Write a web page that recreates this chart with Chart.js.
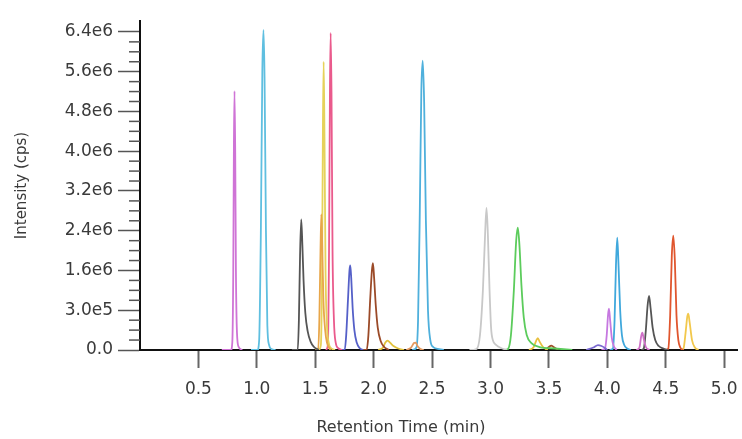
<!DOCTYPE html>
<html>
<head>
<meta charset="utf-8">
<script src="https://cdn.jsdelivr.net/npm/chart.js@4.4.1/dist/chart.umd.min.js"></script>
<style>
    html, body { margin: 0; padding: 0; background: #fff; }
    #wrap { width: 742px; height: 439px; position: relative; }
</style>
</head>
<body>
<div id="wrap"><canvas id="grafico"></canvas></div>
<script>
// ==================== DADOS DO CROMATOGRAMA ====================
// Cada traço: pares [tempo (min), intensidade (cps)]

const xTicks = [0.5, 1.0, 1.5, 2.0, 2.5, 3.0, 3.5, 4.0, 4.5, 5.0];
const yTicks = [0, 0.8e6, 1.6e6, 2.4e6, 3.2e6, 4.0e6, 4.8e6, 5.6e6, 6.4e6];
const yTickLabels = ['0.0', '3.0e5', '1.6e6', '2.4e6', '3.2e6', '4.0e6', '4.8e6', '5.6e6', '6.4e6'];

const magenta081 = [[0.70,0],[0.778,0],[0.790,0.15e6],[0.798,1.5e6],[0.804,4.2e6],[0.809,5.21e6],[0.815,4.0e6],[0.821,1.6e6],[0.830,0.35e6],[0.845,0.06e6],[0.875,0]];
const cyan106 = [[0.95,0],[1.005,0],[1.020,0.2e6],[1.035,2.5e6],[1.047,5.6e6],[1.057,6.44e6],[1.066,5.5e6],[1.078,2.4e6],[1.090,0.5e6],[1.105,0.1e6],[1.125,0.02e6],[1.16,0]];
const gray138 = [[1.30,0],[1.350,0],[1.360,0.6e6],[1.370,1.9e6],[1.380,2.63e6],[1.390,2.1e6],[1.400,1.4e6],[1.415,0.75e6],[1.435,0.38e6],[1.46,0.17e6],[1.49,0.06e6],[1.53,0]];
const orange155 = [[1.50,0],[1.525,0],[1.535,0.6e6],[1.545,2.0e6],[1.552,2.73e6],[1.560,2.1e6],[1.570,1.0e6],[1.585,0.4e6],[1.60,0.15e6],[1.63,0]];
const yellow157 = [[1.53,0],[1.548,0.1e6],[1.558,1.5e6],[1.566,4.6e6],[1.572,5.80e6],[1.579,4.3e6],[1.588,1.6e6],[1.600,0.5e6],[1.615,0.15e6],[1.64,0.03e6],[1.67,0]];
const pink163 = [[1.59,0],[1.608,0.1e6],[1.618,2.0e6],[1.626,5.3e6],[1.632,6.38e6],[1.639,5.2e6],[1.648,2.0e6],[1.660,0.6e6],[1.675,0.15e6],[1.70,0.03e6],[1.73,0]];
const navy180 = [[1.72,0],[1.752,0],[1.765,0.3e6],[1.780,1.0e6],[1.793,1.6e6],[1.800,1.70e6],[1.808,1.45e6],[1.820,0.85e6],[1.835,0.4e6],[1.855,0.15e6],[1.88,0.04e6],[1.91,0]];
const brown199 = [[1.90,0],[1.940,0],[1.955,0.3e6],[1.970,1.0e6],[1.985,1.6e6],[1.994,1.75e6],[2.004,1.45e6],[2.018,0.9e6],[2.035,0.45e6],[2.06,0.18e6],[2.09,0.06e6],[2.13,0]];
const yellow212 = [[2.04,0],[2.08,0.05e6],[2.10,0.15e6],[2.12,0.19e6],[2.14,0.15e6],[2.17,0.08e6],[2.21,0.03e6],[2.26,0]];
const orange235 = [[2.28,0],[2.32,0.05e6],[2.345,0.14e6],[2.36,0.15e6],[2.375,0.08e6],[2.40,0.02e6],[2.43,0]];
const cyan242 = [[2.33,0],[2.366,0.05e6],[2.380,0.6e6],[2.395,2.8e6],[2.408,5.2e6],[2.420,5.82e6],[2.432,5.0e6],[2.447,2.6e6],[2.465,0.8e6],[2.485,0.2e6],[2.51,0.06e6],[2.56,0.02e6],[2.60,0]];
const gray297 = [[2.82,0],[2.880,0.02e6],[2.910,0.3e6],[2.935,1.2e6],[2.955,2.4e6],[2.966,2.86e6],[2.978,2.3e6],[2.992,1.2e6],[3.005,0.45e6],[3.02,0.2e6],[3.05,0.1e6],[3.09,0.04e6],[3.14,0]];
const green323 = [[3.12,0],[3.150,0.02e6],[3.175,0.3e6],[3.200,1.2e6],[3.220,2.2e6],[3.234,2.46e6],[3.248,2.1e6],[3.265,1.3e6],[3.285,0.65e6],[3.31,0.3e6],[3.35,0.14e6],[3.42,0.06e6],[3.55,0.03e6],[3.70,0]];
const yellow340 = [[3.33,0],[3.37,0.06e6],[3.39,0.18e6],[3.405,0.24e6],[3.42,0.17e6],[3.45,0.06e6],[3.49,0]];
const brown352 = [[3.47,0],[3.50,0.06e6],[3.52,0.09e6],[3.54,0.06e6],[3.58,0]];
const purple392 = [[3.82,0],[3.88,0.05e6],[3.92,0.1e6],[3.95,0.08e6],[3.98,0.04e6],[4.0,0]];
const violet401 = [[3.95,0],[3.980,0.03e6],[3.995,0.3e6],[4.006,0.7e6],[4.014,0.83e6],[4.024,0.6e6],[4.038,0.25e6],[4.055,0.08e6],[4.08,0]];
const cyan408 = [[4.02,0],[4.048,0.03e6],[4.062,0.6e6],[4.074,1.7e6],[4.085,2.26e6],[4.096,1.7e6],[4.110,0.8e6],[4.125,0.3e6],[4.145,0.1e6],[4.17,0.03e6],[4.20,0]];
const pink430 = [[4.25,0],[4.275,0.05e6],[4.29,0.28e6],[4.30,0.35e6],[4.312,0.22e6],[4.33,0.06e6],[4.36,0]];
const gray436 = [[4.29,0],[4.312,0.03e6],[4.328,0.35e6],[4.345,0.9e6],[4.357,1.09e6],[4.370,0.85e6],[4.388,0.45e6],[4.41,0.2e6],[4.44,0.08e6],[4.48,0.03e6],[4.52,0]];
const red456 = [[4.50,0],[4.522,0.03e6],[4.538,0.7e6],[4.552,1.9e6],[4.565,2.30e6],[4.578,1.8e6],[4.592,0.7e6],[4.608,0.2e6],[4.625,0.05e6],[4.65,0]];
const yellow469 = [[4.63,0],[4.652,0.03e6],[4.670,0.35e6],[4.685,0.68e6],[4.693,0.73e6],[4.705,0.55e6],[4.725,0.2e6],[4.75,0.05e6],[4.78,0]];

const tracos = [magenta081, cyan106, gray138, orange155, yellow157, pink163, navy180, brown199,
    yellow212, orange235, cyan242, gray297, green323, yellow340, brown352, purple392,
    violet401, cyan408, pink430, gray436, red456, yellow469];

// cores de cada traço (mesma ordem)
const coresTracos = ['#cf74d6', '#5fbfe0', '#555555', '#e8a64a', '#e6d25a', '#ea5a8c', '#5560c8', '#9b4a28',
    '#e2c23c', '#e49a60', '#4fb0dc', '#c8c8c8', '#5ccc5c', '#e8c040', '#a0502a', '#7a6ad0',
    '#c678e0', '#40a8dc', '#d070c8', '#555555', '#e0562e', '#f2c84c'];

// ticks menores do eixo Y (a cada 0.2e6, fora dos principais)
const yMinorTicks = [];
for (let v = 0.2e6; v < 6.4e6; v += 0.2e6) {
    if (Math.round(v / 0.2e6) % 4 !== 0) yMinorTicks.push(v);
}

const fonteTicks = { family: '"DejaVu Sans", sans-serif', size: 17 };

// Plugin: ticks menores + título do eixo X
const extrasEixos = {
    id: 'extrasEixos',
    afterDraw(chart) {
        const ctx = chart.ctx;
        const escalaY = chart.scales.y;
        const left = chart.chartArea.left;
        ctx.save();
        ctx.strokeStyle = '#555';
        ctx.lineWidth = 1.5;
        yMinorTicks.forEach(v => {
            const py = escalaY.getPixelForValue(v);
            ctx.beginPath();
            ctx.moveTo(left - 11, py);
            ctx.lineTo(left, py);
            ctx.stroke();
        });
        ctx.fillStyle = '#3a3a3a';
        ctx.font = '16px "DejaVu Sans", sans-serif';
        ctx.textAlign = 'center';
        ctx.textBaseline = 'middle';
        ctx.fillText('Retention Time (min)', 401, 428);
        ctx.restore();
    }
};

new Chart(document.getElementById('grafico'), {
    type: 'line',
    data: {
        datasets: tracos.map((t, i) => ({
            data: t.map(p => ({ x: p[0], y: p[1] })),
            borderColor: coresTracos[i],
            borderWidth: 1.8,
            pointRadius: 0,
            fill: false,
            cubicInterpolationMode: 'monotone'
        }))
    },
    options: {
        responsive: true,
        maintainAspectRatio: false,
        animation: false,
        layout: { padding: { top: 21, right: 5, left: 0, bottom: 0 } },
        plugins: {
            legend: { display: false },
            tooltip: { enabled: false }
        },
        scales: {
            x: {
                type: 'linear',
                min: 0,
                max: 5.11,
                afterBuildTicks: axis => { axis.ticks = xTicks.map(v => ({ value: v })); },
                afterFit: scale => {
                    scale.height = 89;
                    scale.paddingLeft = 0;
                    scale.paddingRight = 0;
                },
                border: { color: '#111', width: 2 },
                grid: { drawOnChartArea: false, tickLength: 18, tickColor: '#666', tickWidth: 2 },
                ticks: {
                    padding: 11,
                    color: '#3a3a3a',
                    font: fonteTicks,
                    maxRotation: 0,
                    callback: v => v.toFixed(1)
                }
            },
            y: {
                type: 'linear',
                min: 0,
                max: 6.62e6,
                afterBuildTicks: axis => { axis.ticks = yTicks.map(v => ({ value: v })); },
                afterFit: scale => { scale.width = 140; },
                border: { color: '#111', width: 2 },
                grid: { drawOnChartArea: false, tickLength: 22, tickColor: '#555', tickWidth: 1.5 },
                ticks: {
                    padding: 5,
                    color: '#3a3a3a',
                    font: fonteTicks,
                    callback: (v, i) => yTickLabels[i]
                },
                title: {
                    display: true,
                    text: 'Intensity (cps)',
                    color: '#3a3a3a',
                    font: { family: '"DejaVu Sans", sans-serif', size: 15 },
                    padding: { top: 13, bottom: 0 }
                }
            }
        }
    },
    plugins: [extrasEixos]
});
</script>
</body>
</html>
